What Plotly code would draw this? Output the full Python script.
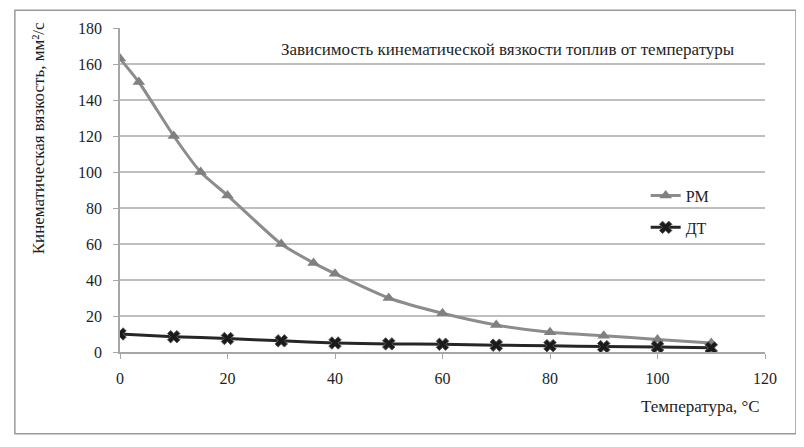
import plotly.graph_objects as go

# Температура, °C
temp_pm = [0, 3.5, 10, 15, 20, 30, 36, 40, 50, 60, 70, 80, 90, 100, 110]
visc_pm = [163, 150, 120, 100, 87, 60, 49.5, 43.5, 30, 21.5, 15, 11, 9, 7, 5]

temp_dt = [0, 10, 20, 30, 40, 50, 60, 70, 80, 90, 100, 110]
visc_dt = [10, 8.5, 7.5, 6.2, 5, 4.5, 4.3, 3.8, 3.5, 3, 2.8, 2.3]

x_ticks = [0, 20, 40, 60, 80, 100, 120]
y_ticks = [0, 20, 40, 60, 80, 100, 120, 140, 160, 180]

FONT = "Liberation Serif"

fig = go.Figure()
fig.add_trace(
    go.Scatter(
        x=temp_pm,
        y=visc_pm,
        mode="lines+markers",
        name="РМ",
        legendgroup="pm",
        line={"color": "#8c8c8c", "width": 3, "shape": "spline", "smoothing": 0.6},
        marker={"symbol": "triangle-up", "size": 11, "color": "#808080"},
    )
)
fig.add_trace(
    go.Scatter(
        x=temp_dt,
        y=visc_dt,
        mode="lines+markers",
        name="ДТ",
        legendgroup="dt",
        line={"color": "#262626", "width": 3, "shape": "spline", "smoothing": 0.6},
        marker={
            "symbol": "x",
            "size": 11,
            "color": "#1a1a1a",
            "line": {"color": "#555555", "width": 1},
        },
    )
)

fig.update_layout(
    width=796,
    height=439,
    margin={"l": 112, "r": 39, "t": 18, "b": 95},
    paper_bgcolor="white",
    plot_bgcolor="white",
    font={"family": FONT, "size": 16, "color": "#1e1e1e"},
    showlegend=True,
    legend={
        "x": 0.815,
        "y": 0.535,
        "xanchor": "left",
        "yanchor": "top",
        "bgcolor": "rgba(0,0,0,0)",
        "font": {"family": FONT, "size": 16},
        "tracegroupgap": 8,
        "traceorder": "grouped",
    },
    xaxis={
        "range": [0, 120],
        "tickvals": x_ticks,
        "showgrid": False,
        "zeroline": False,
        "showline": True,
        "linecolor": "#a6a6a6",
        "linewidth": 1.5,
        "ticks": "outside",
        "ticklen": 5,
        "tickcolor": "#a6a6a6",
        "ticklabelstandoff": 6,
        "tickfont": {"family": FONT, "size": 16},
    },
    yaxis={
        "range": [0, 180],
        "tickvals": y_ticks,
        "showgrid": True,
        "gridcolor": "#bfbfbf",
        "gridwidth": 1.5,
        "zeroline": False,
        "showline": True,
        "linecolor": "#a6a6a6",
        "linewidth": 1.5,
        "ticks": "outside",
        "ticklen": 5,
        "tickcolor": "#a6a6a6",
        "ticklabelstandoff": 8,
        "tickfont": {"family": FONT, "size": 16},
    },
    annotations=[
        {
            "text": "Зависимость кинематической вязкости топлив от температуры",
            "xref": "paper", "yref": "paper",
            "x": 0.601, "y": 0.935,
            "xanchor": "center", "yanchor": "middle",
            "showarrow": False,
            "font": {"family": FONT, "size": 17},
        },
        {
            "text": "Кинематическая вязкость, мм²/с",
            "xref": "paper", "yref": "paper",
            "x": -0.127, "y": 0.66,
            "xanchor": "center", "yanchor": "middle",
            "textangle": -90,
            "showarrow": False,
            "font": {"family": FONT, "size": 17},
        },
        {
            "text": "Температура, °C",
            "xref": "paper", "yref": "paper",
            "x": 0.9, "y": -0.168,
            "xanchor": "center", "yanchor": "middle",
            "showarrow": False,
            "font": {"family": FONT, "size": 17},
        },
    ],
    shapes=[
        {
            "type": "rect",
            "xref": "paper", "yref": "paper",
            "x0": -0.163, "x1": 1.048,
            "y0": -0.252, "y1": 1.055,
            "line": {"color": "#9a9a9a", "width": 1.5},
            "fillcolor": "rgba(0,0,0,0)",
            "layer": "below",
        }
    ],
)

fig.write_html("out.html")
